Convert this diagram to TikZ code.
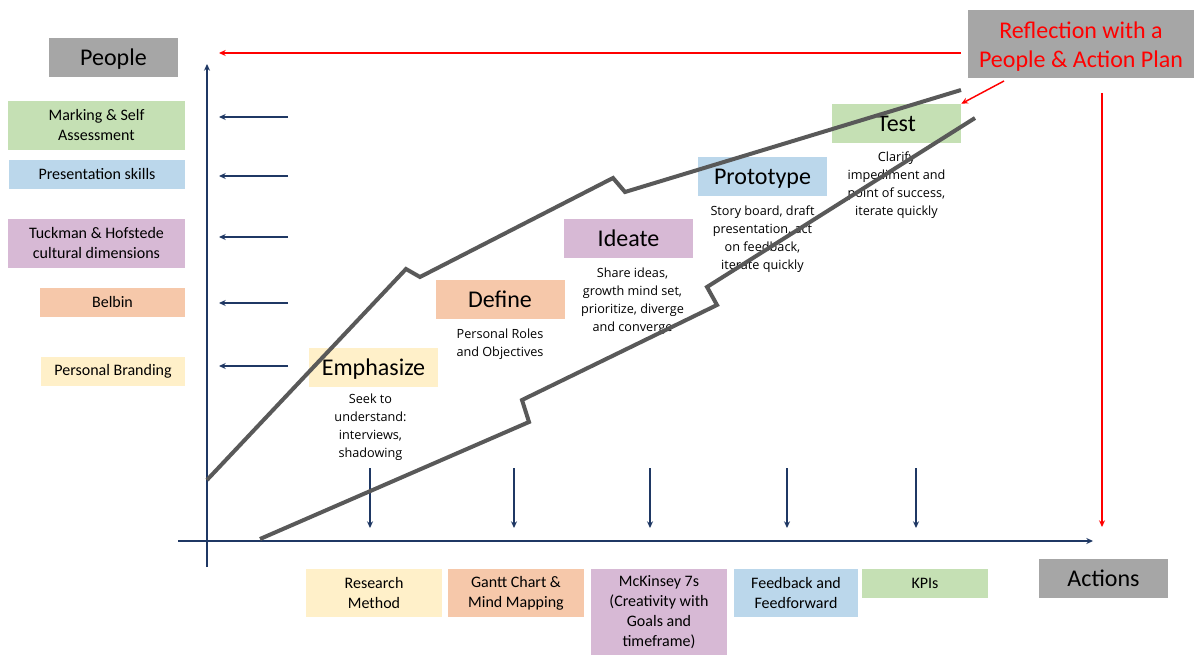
\documentclass[tikz,border=0pt]{standalone}
\usepackage{fontspec}
\setmainfont{Carlito}
\newfontfamily\descfont{Open Sans}
\usepackage{tikz}
\usetikzlibrary{positioning,arrows.meta}
\newlength\pxu
\setlength\pxu{0.75pt}
\definecolor{navy}{HTML}{1F3864}
\definecolor{gry}{HTML}{A6A6A6}
\definecolor{ln}{HTML}{595959}
\definecolor{cgreen}{HTML}{C5E0B4}
\definecolor{cblue}{HTML}{BBD7EB}
\definecolor{cpurp}{HTML}{D7B9D5}
\definecolor{corange}{HTML}{F6C8AA}
\definecolor{cyellow}{HTML}{FFF0C9}
\tikzset{
  >={Stealth[length=5pt,width=4.5pt]},
  box/.style={inner sep=0pt, align=center, font=\fontsize{12}{15}\selectfont},
  bigbox/.style={inner sep=0pt, align=center, minimum width=129\pxu, minimum height=39\pxu,
                font=\fontsize{18}{22}\selectfont},
  title/.style={bigbox, text height=13pt, text depth=1pt},
  desc/.style={inner sep=0pt, align=center, font=\descfont\fontsize{9.5}{13.5}\selectfont},
  ax/.style={->, draw=navy, line width=1.1pt},
  pt/.style={->, draw=navy, line width=0.8pt},
  rd/.style={->, draw=red, line width=1.1pt},
  stair/.style={draw=ln, line width=3pt},
}
\begin{document}
\begin{tikzpicture}[x=\pxu, y=-\pxu]
  \useasboundingbox (0,0) rectangle (1194,655);
  % axis labels
  \node[title,fill=gry] (people) at (113.5,57.5) {People};
  \node[title,fill=gry] (actions) at (1103.5,578.5) {Actions};
  \node[bigbox,fill=gry,text=red,minimum width=226\pxu,minimum height=68\pxu] (refl) at (1081,44)
    {\rule{0pt}{16.5pt}Reflection with a\\People \& Action Plan};
  % people side
  \node[box,fill=cgreen,minimum width=177\pxu,minimum height=49\pxu] (mark) at (96.5,125.5) {Marking \& Self\\Assessment};
  \node[box,fill=cblue,minimum width=176\pxu,minimum height=29\pxu] (pres) at (97,174.5) {Presentation skills};
  \node[box,fill=cpurp,minimum width=177\pxu,minimum height=49\pxu] (tuck) at (96.5,243.5) {Tuckman \& Hofstede\\cultural dimensions};
  \node[box,fill=corange,minimum width=145\pxu,minimum height=29\pxu] (belb) at (112.5,302.5) {Belbin};
  \node[box,fill=cyellow,minimum width=144\pxu,minimum height=29\pxu] (brand) at (113,371.5) {Personal Branding};
  % action side
  \node[box,fill=cyellow,minimum width=136\pxu,minimum height=48\pxu] (rm) at (374,593) {Research\\Method};
  \node[box,fill=corange,minimum width=136\pxu,minimum height=48\pxu] (gantt) at (516,593) {Gantt Chart \&\\Mind Mapping};
  \node[box,fill=cpurp,minimum width=136\pxu,minimum height=86\pxu] (mck) at (659,612) {McKinsey 7s\\(Creativity with\\Goals and\\timeframe)};
  \node[box,fill=cblue,minimum width=124\pxu,minimum height=48\pxu] (fb) at (796,593) {Feedback and\\Feedforward};
  \node[box,fill=cgreen,minimum width=126\pxu,minimum height=29\pxu] (kpi) at (925,583.5) {KPIs};
  % stages
  \node[title,fill=cyellow] (emph) at (373.5,367.5) {Emphasize};
  \node[title,fill=corange] (def) at (500,300) {Define};
  \node[title,fill=cpurp] (idea) at (628.5,238.5) {Ideate};
  \node[title,fill=cblue] (proto) at (762.5,176.5) {Prototype};
  \node[title,fill=cgreen] (test) at (896.5,123.5) {Test};
  \node[desc,below=5pt of emph,xshift=-3\pxu] (emphd) {Seek to\\understand:\\interviews,\\shadowing};
  \node[desc,below=7pt of def] (defd) {Personal Roles\\and Objectives};
  \node[desc,below=7pt of idea,xshift=4\pxu] (idead) {Share ideas,\\growth mind set,\\prioritize, diverge\\and converge};
  \node[desc,below=7pt of proto] (protod) {Story board, draft\\presentation, act\\on feedback,\\iterate quickly};
  \node[desc,below=6pt of test] (testd) {Clarify\\impediment and\\point of success,\\iterate quickly};
  % axes
  \coordinate (o1) at (207,567);
  \coordinate (ytop) at (207,64);
  \coordinate (o2) at (178,541);
  \coordinate (xend) at (1093,541);
  \draw[ax] (o1) -- (ytop);
  \draw[ax] (o2) -- (xend);
  \foreach \yy [count=\i] in {117,176,237,303,366}{
    \coordinate (ls\i) at (288,\yy);
    \coordinate (le\i) at (219,\yy);
    \draw[pt] (ls\i) -- (le\i);
  }
  \foreach \xx [count=\i] in {370,514,650,787,916}{
    \coordinate (ds\i) at (\xx,468);
    \coordinate (de\i) at (\xx,528);
    \draw[pt] (ds\i) -- (de\i);
  }
  % reflection loop
  \coordinate (r1) at (961,53);
  \coordinate (r2) at (219,53);
  \coordinate (r3) at (1004,81);
  \coordinate (r4) at (1102,93);
  \coordinate (r5) at (1102,527);
  \draw[rd] (r1) -- (r2);
  \draw[rd] (r3) -- (test.north east);
  \draw[rd] (r4) -- (r5);
  % stairs
  \draw[stair] (207,480) -- (406,269) -- (420,277) -- (613,178) -- (625,192) -- (961,90);
  \draw[stair] (260,539) -- (529,422) -- (522,400) -- (717,305) -- (707,287) -- (975,118);
\end{tikzpicture}
\end{document}
